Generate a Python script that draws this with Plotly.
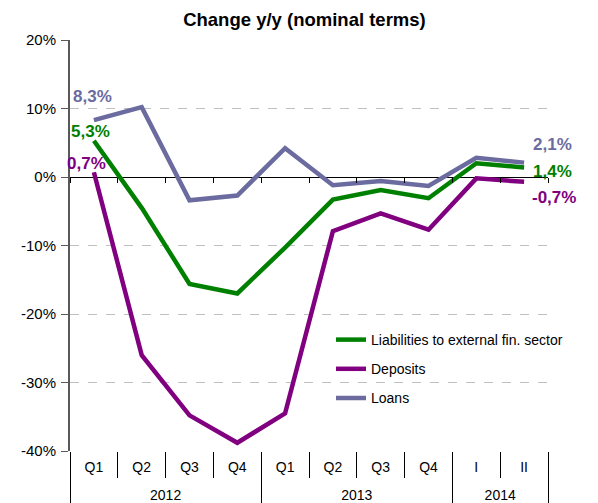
import plotly.graph_objects as go

years = ["2012"] * 4 + ["2013"] * 4 + ["2014"] * 2
periods = ["Q1", "Q2", "Q3", "Q4", "Q1", "Q2", "Q3", "Q4", "I", "II"]

liabilities = [5.3, -4.5, -15.6, -17.0, -10.3, -3.3, -1.9, -3.1, 2.0, 1.4]
deposits = [0.7, -26.0, -34.8, -38.8, -34.5, -7.9, -5.3, -7.7, -0.2, -0.7]
loans = [8.3, 10.2, -3.4, -2.7, 4.2, -1.2, -0.6, -1.3, 2.8, 2.1]

names = ["Liabilities to external fin. sector", "Deposits", "Loans"]
colors = ["#008000", "#800080", "#6B6BA0"]
series = [liabilities, deposits, loans]

y_tickvals = [-40, -30, -20, -10, 0, 10, 20]
y_ticktext = ["-40%", "-30%", "-20%", "-10%", "0%", "10%", "20%"]

# label offsets (pixels) for first / last value labels
first_shift = [(-3, 9), (-7, 9), (-1, 24)]
last_shift = [(7, -4), (6, -16), (7, 18)]

# inner category labels get a small empty second line so the year row sits lower
period_labels = [p + "<br><span style='font-size:4px'>\u00a0</span>" for p in periods]


def fmt(v):
    return f"{v:.1f}".replace(".", ",") + "%"


FONT = "Liberation Sans, Arial, sans-serif"
n = len(periods)
fig = go.Figure()
annotations = []
for i, (name, col, vals) in enumerate(zip(names, colors, series)):
    fig.add_trace(go.Scatter(
        x=[years, period_labels], y=vals, name=name, mode="lines",
        line=dict(color=col, width=4.5), legendgroup=name,
        hovertemplate="%{y:.1f}%<extra>" + name + "</extra>",
    ))
    annotations.append(dict(
        xref="paper", yref="y", x=(0 + 0.5) / n, y=vals[0], text=fmt(vals[0]),
        xanchor="center", yanchor="middle", showarrow=False,
        xshift=first_shift[i][0], yshift=first_shift[i][1],
        font=dict(color=col, size=17, family=FONT, weight="bold")))
    annotations.append(dict(
        xref="paper", yref="y", x=(n - 1 + 0.5) / n, y=vals[-1], text=fmt(vals[-1]),
        xanchor="left", yanchor="middle", showarrow=False,
        xshift=last_shift[i][0], yshift=last_shift[i][1],
        font=dict(color=col, size=17, family=FONT, weight="bold")))

# invisible helper trace so the zero-line tick axis is drawn
fig.add_trace(go.Scatter(x=[years, period_labels], y=[0] * n, xaxis="x2", mode="lines",
                         line=dict(color="rgba(0,0,0,0)", width=0),
                         showlegend=False, hoverinfo="skip"))

fig.update_layout(
    width=590, height=495,
    margin=dict(l=62, r=50, t=32, b=52, autoexpand=False),
    paper_bgcolor="white", plot_bgcolor="white",
    font=dict(family=FONT, size=14, color="#000000"),
    title=dict(text="<b>Change y/y (nominal terms)</b>", x=0.5025, xanchor="center",
               y=0.9758, yanchor="middle", font=dict(size=18.5, family=FONT)),
    showlegend=True,
    legend=dict(x=0.546, y=0.309, xanchor="left", yanchor="top",
                bgcolor="rgba(0,0,0,0)", font=dict(size=14, family=FONT),
                tracegroupgap=8, traceorder="grouped"),
    annotations=annotations,
    xaxis=dict(type="multicategory", range=[-0.5, n - 0.5], autorange=False,
               showgrid=False, showline=False, automargin=False,
               ticks="outside", tickson="boundaries", ticklen=26,
               tickcolor="#000000", tickwidth=1, ticklabelstandoff=6,
               showdividers=True, dividercolor="#000000", dividerwidth=1,
               tickfont=dict(size=14), zeroline=False),
    xaxis2=dict(type="multicategory", overlaying="x", anchor="free", position=2 / 3,
                range=[-0.5, n - 0.5], autorange=False,
                showticklabels=False, showgrid=False, showline=False,
                ticks="outside", tickson="boundaries", ticklen=5,
                tickcolor="#000000", showdividers=False, automargin=False),
    yaxis=dict(range=[-40, 20], autorange=False, tickvals=y_tickvals, ticktext=y_ticktext,
               showgrid=True, gridcolor="#C0C0C0", griddash="dash", gridwidth=1,
               zeroline=True, zerolinecolor="#000000", zerolinewidth=1.2,
               showline=True, linecolor="#595959", linewidth=2,
               ticks="outside", ticklen=7, tickcolor="#595959",
               ticklabelstandoff=2, automargin=False,
               tickfont=dict(size=15)),
)

fig.write_html("out.html")
